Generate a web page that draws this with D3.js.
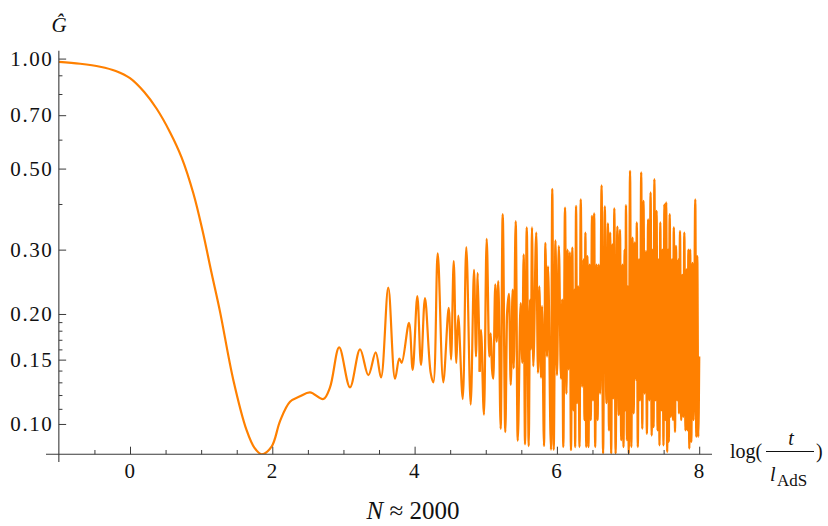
<!DOCTYPE html>
<html>
<head>
<meta charset="utf-8">
<script src="https://cdn.jsdelivr.net/npm/d3@7"></script>
<style>
  body { margin: 0; background: #fff; }
  svg { display: block; font-family: "Liberation Serif", "DejaVu Serif", serif; }
</style>
</head>
<body>
<svg id="chart" width="828" height="526"></svg>
<script>
// smooth decay + first oscillations (log t/l_AdS , G hat)
const tSmooth = [-1, -0.7, -0.42, -0.2, 0, 0.2, 0.375, 0.562, 0.726, 0.89, 1.02, 1.148, 1.265, 1.452, 1.64, 1.75, 1.85,
  1.99, 2.11, 2.249, 2.389, 2.53, 2.717, 2.811, 2.94, 3.092, 3.233, 3.35, 3.453, 3.528, 3.63, 3.725, 3.785, 3.819,
  3.921, 3.973, 4.038, 4.09, 4.146, 4.226, 4.263, 4.325, 4.403, 4.479, 4.512, 4.55, 4.586, 4.614, 4.676, 4.727,
  4.788, 4.835, 4.863, 4.887, 4.915];
const gSmooth = [0.98, 0.968, 0.95, 0.925, 0.884, 0.81, 0.729, 0.629, 0.536, 0.428, 0.338, 0.258, 0.203, 0.132, 0.096, 0.086, 0.0826,
  0.0867, 0.102, 0.115, 0.119, 0.122, 0.117, 0.126, 0.162, 0.126, 0.16, 0.136, 0.157, 0.134, 0.236, 0.133, 0.151, 0.147,
  0.189, 0.1406, 0.224, 0.145, 0.221, 0.138, 0.13, 0.293, 0.13, 0.208, 0.15, 0.279, 0.147, 0.198, 0.117, 0.305,
  0.113, 0.264, 0.153, 0.259, 0.139];

// later, dense part
const tNoisy = [4.933, 4.975, 5.013, 5.05, 5.07, 5.088, 5.106, 5.134, 5.154, 5.176, 5.21, 5.238, 5.275, 5.299, 5.327,
  5.351, 5.379, 5.393, 5.421, 5.449, 5.491, 5.514, 5.533, 5.552, 5.576, 5.604, 5.622, 5.636, 5.65, 5.668, 5.71, 5.734,
  5.753, 5.777, 5.791, 5.819, 5.838, 5.861, 5.875, 5.917, 5.935, 5.955, 5.98,
  6.001, 6.027, 6.058, 6.074, 6.09, 6.114, 6.134, 6.15, 6.164, 6.181, 6.198, 6.217, 6.232, 6.246, 6.257, 6.269, 6.285,
  6.299, 6.318, 6.335, 6.356, 6.375, 6.388, 6.401, 6.412, 6.429, 6.444, 6.46, 6.476, 6.493, 6.507, 6.524, 6.538, 6.557,
  6.572, 6.589, 6.606, 6.628, 6.649, 6.673, 6.696, 6.717, 6.732, 6.749, 6.763, 6.779, 6.793, 6.807, 6.825, 6.85, 6.869,
  6.887, 6.904, 6.922, 6.936, 6.952, 6.96, 6.971, 6.984, 6.997, 7.01, 7.028, 7.046, 7.063, 7.079, 7.096, 7.112, 7.123,
  7.137, 7.154, 7.168, 7.185, 7.2, 7.217, 7.234, 7.25, 7.265, 7.282, 7.299, 7.317, 7.332, 7.347, 7.359, 7.37, 7.386,
  7.401, 7.415, 7.431, 7.442, 7.453, 7.47, 7.484, 7.498, 7.511, 7.524, 7.536, 7.55, 7.562, 7.573, 7.585, 7.601, 7.618,
  7.632, 7.643, 7.66, 7.674, 7.691, 7.707, 7.716, 7.73, 7.747, 7.762, 7.776, 7.791, 7.807, 7.823, 7.837, 7.848, 7.861,
  7.873, 7.889, 7.906, 7.921, 7.945, 7.959, 7.973, 7.987, 8.0];
const gNoisy = [0.181, 0.106, 0.321, 0.153, 0.177, 0.142, 0.133, 0.241, 0.168, 0.246, 0.097, 0.375, 0.095, 0.199, 0.227,
  0.128, 0.233, 0.142, 0.359, 0.09, 0.214, 0.147, 0.291, 0.088, 0.345, 0.087, 0.219, 0.16, 0.345, 0.144, 0.334, 0.138,
  0.238, 0.134, 0.21, 0.087, 0.313, 0.153, 0.27, 0.085, 0.44, 0.085, 0.318,
  0.136, 0.307, 0.133, 0.219, 0.0865, 0.391, 0.121, 0.3, 0.141, 0.295, 0.0848, 0.304, 0.109, 0.233, 0.0865, 0.395, 0.114,
  0.238, 0.0865, 0.412, 0.1265, 0.282, 0.1025, 0.334, 0.0865, 0.288, 0.0865, 0.273, 0.1025, 0.371, 0.116, 0.377, 0.0865, 0.273,
  0.1025, 0.273, 0.121, 0.45, 0.083, 0.394, 0.114, 0.354, 0.096, 0.334, 0.083, 0.31, 0.1175, 0.389, 0.083, 0.347, 0.1057,
  0.3395, 0.0903, 0.273, 0.0865, 0.3, 0.109, 0.397, 0.0903, 0.238, 0.083, 0.493, 0.0865, 0.3235, 0.107, 0.314, 0.132, 0.356,
  0.0865, 0.282, 0.116, 0.488, 0.097, 0.408, 0.121, 0.297, 0.094, 0.363, 0.116, 0.43, 0.093, 0.3, 0.098, 0.468, 0.116,
  0.383, 0.096, 0.282, 0.0874, 0.356, 0.109, 0.3, 0.0874, 0.399, 0.1025, 0.404, 0.0838, 0.3, 0.0893, 0.375, 0.1046, 0.282,
  0.1025, 0.345, 0.0951, 0.307, 0.116, 0.282, 0.107, 0.337, 0.1025, 0.256, 0.1046, 0.334, 0.096, 0.265, 0.096, 0.3, 0.0856,
  0.3, 0.0893, 0.276, 0.1025, 0.412, 0.0922, 0.288, 0.0922, 0.153];

const xMajor = [0, 2, 4, 6, 8];
const xMinor = [-0.5, 0.5, 1, 1.5, 2.5, 3, 3.5, 4.5, 5, 5.5, 6.5, 7, 7.5];
const yMajor = [0.1, 0.15, 0.2, 0.3, 0.5, 0.7, 1.0];
const yMinor = [0.11, 0.12, 0.13, 0.14, 0.16, 0.17, 0.18, 0.19, 0.4, 0.6, 0.8, 0.9];

const svg = d3.select('#chart');
const axisColor = '#3a3a3a';
const orange = '#ff8000';
const tickFont = 21;

const x = d3.scaleLinear().domain([-1, 8]).range([58.85, 699.2]);
const y = d3.scaleLog().domain([0.0826, 1.051]).range([454.3, 50.7]);

const smoothData = tSmooth.map((t, i) => [t, gSmooth[i]]);
const noisyData = [smoothData[smoothData.length - 1]]
  .concat(tNoisy.map((t, i) => [t, gNoisy[i]]));

svg.append('clipPath').attr('id', 'clip')
  .append('rect')
  .attr('x', x(-1)).attr('y', y.range()[1])
  .attr('width', x(8) - x(-1) + 2).attr('height', y.range()[0] - y.range()[1]);

const smoothLine = d3.line()
  .x(d => x(d[0]))
  .y(d => y(d[1]))
  .curve(d3.curveCatmullRom.alpha(0.5));

const noisyLine = d3.line()
  .x(d => x(d[0]))
  .y(d => y(d[1]))
  .curve(d3.curveMonotoneX);

const plot = svg.append('g').attr('clip-path', 'url(#clip)');
plot.append('path')
  .datum(smoothData)
  .attr('fill', 'none')
  .attr('stroke', orange)
  .attr('stroke-width', 2.2)
  .attr('stroke-linejoin', 'round')
  .attr('d', smoothLine);
plot.append('path')
  .datum(noisyData)
  .attr('fill', 'none')
  .attr('stroke', orange)
  .attr('stroke-width', 2.3)
  .attr('stroke-linejoin', 'round')
  .attr('d', noisyLine);

// x axis
const xAxisG = svg.append('g').attr('transform', `translate(0,${y.range()[0]})`);
xAxisG.append('g')
  .call(d3.axisBottom(x).tickValues(xMinor).tickSizeInner(-4.3).tickSizeOuter(0).tickFormat(''))
  .call(g => g.select('.domain').remove());
xAxisG.append('g')
  .call(d3.axisBottom(x).tickValues(xMajor).tickSizeInner(-7.6).tickSizeOuter(0).tickPadding(9).tickFormat(d3.format('d')))
  .attr('font-size', tickFont)
  .attr('font-family', 'Liberation Serif')
  .call(g => g.select('.domain').remove());
xAxisG.append('line').attr('class', 'axis-line')
  .attr('x1', 46).attr('x2', 712).attr('y1', 0).attr('y2', 0);

// y axis
const yAxisG = svg.append('g').attr('transform', `translate(${x(-1)},0)`);
yAxisG.append('g')
  .call(d3.axisLeft(y).tickValues(yMinor).tickSizeInner(-3.6).tickSizeOuter(0).tickFormat(''))
  .call(g => g.select('.domain').remove());
yAxisG.append('g')
  .call(d3.axisLeft(y).tickValues(yMajor).tickSizeInner(-7.3).tickSizeOuter(0).tickPadding(7).tickFormat(d3.format('.2f')))
  .attr('font-size', tickFont)
  .attr('font-family', 'Liberation Serif')
  .call(g => g.select('.domain').remove());
yAxisG.append('line').attr('class', 'axis-line')
  .attr('x1', 0).attr('x2', 0).attr('y1', 50.7).attr('y2', 462);

svg.selectAll('.tick line').attr('stroke', axisColor).attr('stroke-width', 1);
svg.selectAll('.tick text').attr('fill', '#111').attr('letter-spacing', 1.6);
yAxisG.selectAll('.tick text').attr('dx', 1.6);
svg.selectAll('.axis-line').attr('stroke', axisColor).attr('stroke-width', 1.1);

// axis labels
svg.append('text')
  .attr('x', 59).attr('y', 32)
  .attr('text-anchor', 'middle')
  .style('font-size', '21px').style('font-style', 'italic')
  .attr('fill', '#111')
  .text('Ĝ');

const xl = svg.append('g').attr('fill', '#111').style('font-size', '20px');
xl.append('text').attr('x', 730).attr('y', 458).text('log(');
xl.append('line').attr('x1', 766).attr('x2', 814).attr('y1', 451.5).attr('y2', 451.5)
  .attr('stroke', '#111').attr('stroke-width', 1);
xl.append('text').attr('x', 791).attr('y', 445).attr('text-anchor', 'middle')
  .style('font-style', 'italic').text('t');
xl.append('text').attr('x', 770).attr('y', 481).style('font-style', 'italic').text('l');
xl.append('text').attr('x', 777).attr('y', 486).style('font-size', '17px').text('AdS');
xl.append('text').attr('x', 816).attr('y', 458).text(')');

const cap = svg.append('text')
  .attr('x', 413).attr('y', 519)
  .attr('text-anchor', 'middle')
  .attr('fill', '#111')
  .style('font-size', '25px');
cap.append('tspan').style('font-style', 'italic').text('N');
cap.append('tspan').text(' ≈ 2000');
</script>
</body>
</html>
